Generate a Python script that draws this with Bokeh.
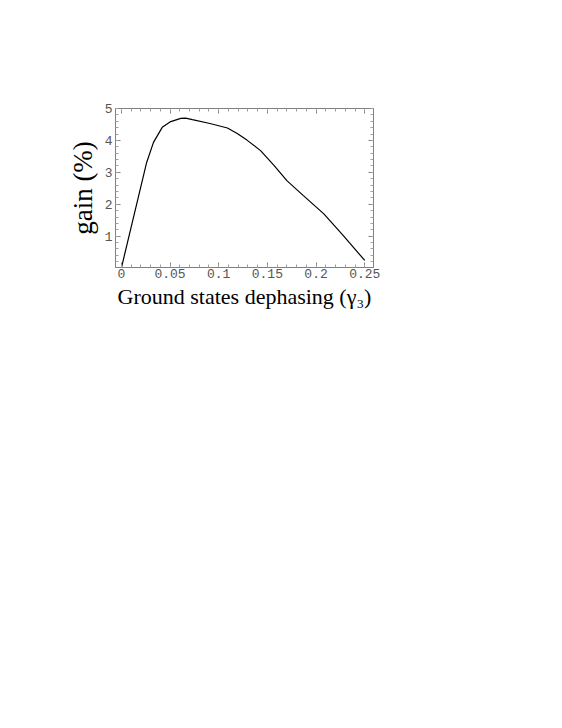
from bokeh.plotting import figure
from bokeh.models import Range1d, LinearAxis, FixedTicker
from bokeh.embed import file_html
from bokeh.resources import INLINE

gamma3 = [0.0, 0.026, 0.033, 0.042, 0.050, 0.061, 0.066, 0.073, 0.091, 0.109,
          0.119, 0.129, 0.143, 0.157, 0.170, 0.187, 0.208, 0.228, 0.250]
gain = [0.0, 3.31, 3.94, 4.41, 4.58, 4.69, 4.70, 4.65, 4.53, 4.39,
        4.22, 4.01, 3.68, 3.21, 2.74, 2.27, 1.70, 1.02, 0.24]

x_ticks = [0, 0.05, 0.1, 0.15, 0.2, 0.25]
x_labels = ["0", "0.05", "0.1", "0.15", "0.2", "0.25"]
y_ticks = [1, 2, 3, 4, 5]
y_labels = ["1", "2", "3", "4", "5"]
x_minor = [round(i * 0.01, 3) for i in range(0, 26)]
y_minor = [round(i * 0.2, 2) for i in range(0, 26)]

p = figure(width=385, height=330, output_backend="svg", toolbar_location=None,
           x_range=Range1d(-0.006, 0.259), y_range=Range1d(0.02, 5.0),
           x_axis_location=None, y_axis_location=None,
           min_border_left=115, min_border_right=12, min_border_top=108,
           min_border_bottom=63)
p.grid.visible = False
p.outline_line_color = "#808080"
p.outline_line_width = 1
p.background_fill_color = "white"
p.border_fill_color = "white"

def styled(axis, labels=True):
    axis.major_tick_in = 5
    axis.major_tick_out = 0
    axis.minor_tick_in = 3
    axis.minor_tick_out = 0
    axis.axis_line_color = "#808080"
    axis.major_tick_line_color = "#808080"
    axis.minor_tick_line_color = "#a0a0a0"
    axis.major_label_text_font = "Liberation Mono"
    axis.major_label_text_font_size = "13px"
    axis.major_label_text_color = "#555555"
    if not labels:
        axis.major_label_text_font_size = "0px"
        axis.major_label_text_alpha = 0
    return axis

xb = styled(LinearAxis(ticker=FixedTicker(ticks=x_ticks, minor_ticks=x_minor)))
xb.major_label_overrides = dict(zip(x_ticks, x_labels))
xb.major_label_standoff = 1
xb.axis_label = "Ground states dephasing (\u03b3\u2083)"
xb.axis_label_text_font = "Liberation Serif"
xb.axis_label_text_font_size = "22px"
xb.axis_label_text_font_style = "normal"
xb.axis_label_text_color = "black"
xb.axis_label_standoff = 3
p.add_layout(xb, "below")

yl = styled(LinearAxis(ticker=FixedTicker(ticks=y_ticks, minor_ticks=y_minor)))
yl.major_label_overrides = dict(zip(y_ticks, y_labels))
yl.major_label_standoff = 3
yl.axis_label = "gain (%)"
yl.axis_label_text_font = "Liberation Serif"
yl.axis_label_text_font_size = "27px"
yl.axis_label_text_font_style = "normal"
yl.axis_label_text_color = "black"
yl.axis_label_standoff = 4
p.add_layout(yl, "left")

xt = styled(LinearAxis(ticker=FixedTicker(ticks=x_ticks, minor_ticks=x_minor)), labels=False)
p.add_layout(xt, "above")
yr = styled(LinearAxis(ticker=FixedTicker(ticks=y_ticks, minor_ticks=y_minor)), labels=False)
p.add_layout(yr, "right")

p.line(gamma3, gain, line_color="black", line_width=1.2)

open("out.html", "w").write(file_html(p, INLINE))
